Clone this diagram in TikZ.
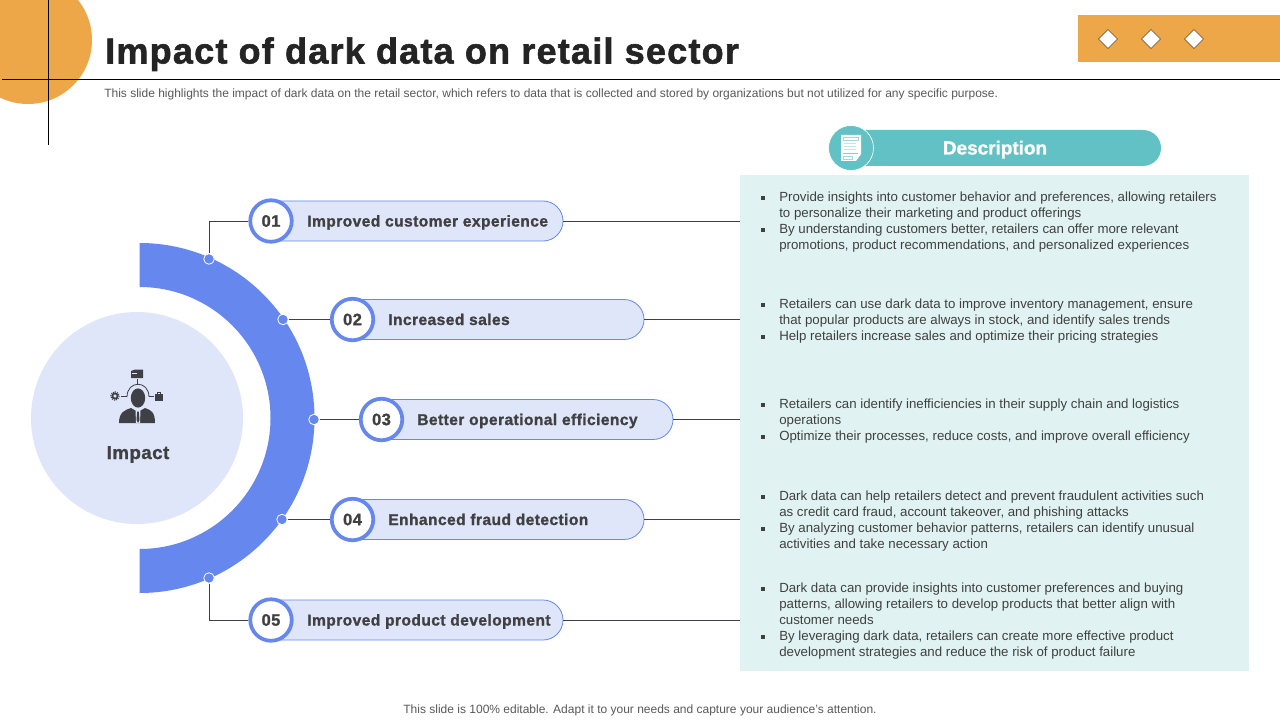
\documentclass[tikz,border=0pt]{standalone}
\usepackage{fontspec}
\setmainfont{Liberation Sans}
\newfontfamily\lblfont[LetterSpace=2.6,FakeBold=1.2]{Liberation Sans}
\newfontfamily\titlefont[LetterSpace=3.4,FakeBold=1.6]{Liberation Sans}
\newfontfamily\descfont[FakeBold=1.2]{Liberation Sans}
\definecolor{orangeC}{HTML}{EEA748}
\definecolor{blueC}{HTML}{6687EE}
\definecolor{paleC}{HTML}{E0E6FA}
\definecolor{tealC}{HTML}{62C1C5}
\definecolor{paleT}{HTML}{E0F2F2}
\definecolor{inkC}{HTML}{404040}
\definecolor{iconC}{HTML}{3F3F46}
\newcommand{\bul}{\leavevmode\llap{\rule[1.6pt]{2.6pt}{2.6pt}\hspace{10.8pt}}}
\tikzset{x=0.75pt,y=-0.75pt,
 pill/.style={draw=blueC,line width=0.6pt,fill=paleC},
 numc/.style={circle,draw=blueC,line width=2.8pt,fill=white,minimum size=41.5pt*0.75,inner sep=0pt,font=\lblfont\bfseries\fontsize{12.4}{14}\selectfont,text=inkC},
 lbl/.style={anchor=base west,inner sep=0pt,font=\lblfont\bfseries\fontsize{11.7}{14}\selectfont,text=inkC},
 dotn/.style={circle,fill=blueC,draw=white,line width=0.6pt,minimum size=10.5pt*0.75,inner sep=0pt},
 conn/.style={draw=iconC,line width=0.6pt},
 body/.style={anchor=north west,inner sep=0pt,align=left,text=inkC,font=\fontsize{9.95}{12}\selectfont},
 rule/.style={draw=black,line width=0.75pt},
 dia/.style={draw=black!60!orangeC,line width=0.5pt,fill=white}}
\begin{document}
\begin{tikzpicture}
\useasboundingbox (0,0) rectangle (1280,720);
\fill[white] (0,0) rectangle (1280,720);
% header
\begin{scope}
\clip (0,0) rectangle (1280,720);
\fill[orangeC] (28,40) circle[radius=64];
\end{scope}
\fill[orangeC] (1078,15) rectangle (1280,62);
\foreach \p in {1108,1151,1194}{\filldraw[dia] (\p-9.5,39)--(\p,29.5)--(\p+9.5,39)--(\p,48.5)--cycle;}
\draw[rule] (2,79.5) -- (1280,79.5);
\draw[rule] (48.5,0) -- (48.5,145);
\node[anchor=base west,inner sep=0pt,text=black!86] (title) at (105,63.5) {\titlefont\bfseries\fontsize{27}{32}\selectfont Impact of dark data on retail sector};
\node[anchor=base west,inner sep=0pt,text=black!65] (sub) at (104,97.5) {\fontsize{9}{10}\selectfont This slide highlights the impact of dark data on the retail sector, which refers to data that is collected and stored by organizations but not utilized for any specific purpose.};
\node[anchor=base,inner sep=0pt,text=black!65] (foot) at (640,713) {\fontsize{9}{10}\selectfont This slide is 100\% editable. Adapt it to your needs and capture your audience's attention.};
% centre
\fill[paleC] (137,418) circle[radius=106];
\fill[blueC] (139.5,243) arc[start angle=90,end angle=-90,x radius=175*0.75pt,y radius=175*0.75pt] -- (139.5,549) arc[start angle=-90,end angle=90,x radius=131*0.75pt,y radius=131*0.75pt] -- cycle;
\node[anchor=base,inner sep=0pt,text=inkC] (impact) at (138,459) {\lblfont\bfseries\fontsize{14}{16}\selectfont Impact};
% person icon
\draw[iconC,line width=0.6pt] (127,397) .. controls (127,380) and (149,380) .. (149,397);
\fill[iconC] (119,423) .. controls (119,412) and (125,410) .. (131,408) -- (138,412) -- (145,408) .. controls (151,410) and (155,412) .. (155,423) -- cycle;
\fill[paleC] (135.5,409.5) -- (138,411.5) -- (140.5,409.5) -- (140,423) -- (136,423) -- cycle;
\fill[iconC] (137.2,411.5) -- (138.8,411.5) -- (139.5,420) -- (138,423) -- (136.5,420) -- cycle;
\fill[iconC] (138,398) ellipse[x radius=7.2,y radius=9.6];
\draw[iconC,line width=0.5pt] (137,385) -- (137,379);
\fill[iconC] (131,371) -- (135,369.5) -- (143,369.5) -- (143,378) -- (131,378) -- cycle;
\fill[paleC] (132,372.5) rectangle (137,373.2);
\fill[iconC] (155,394) rectangle (163,400.5);
\draw[iconC,line width=0.4pt] (157.5,394) -- (157.5,392.5) -- (160.5,392.5) -- (160.5,394);
\draw[iconC,line width=0.4pt] (149,396.5) -- (154,396.5);
\draw[iconC,line width=0.4pt] (121,396.5) -- (127,396.5);
\draw[iconC,line width=1.3pt] (115,396) circle[radius=2.6];
\draw[iconC,line width=0.8pt,dash pattern=on 0.8pt off 0.8pt] (115,396) circle[radius=4.2];
% rows
\coordinate (stub1) at (740,221);
\coordinate (stub2) at (740,319.5);
\coordinate (stub3) at (740,419.5);
\coordinate (stub4) at (740,519.5);
\coordinate (stub5) at (740,620);
\node[dotn] (d1) at (209,259) {};
\node[dotn] (d2) at (283,319.5) {};
\node[dotn] (d3) at (314,419.5) {};
\node[dotn] (d4) at (282,519.5) {};
\node[dotn] (d5) at (209,578) {};
% pills
\filldraw[pill] (271,201) -- (543,201) arc[start angle=90,end angle=-90,x radius=15pt,y radius=15pt] -- (271,241) -- cycle;
\filldraw[pill] (353,299.5) -- (624,299.5) arc[start angle=90,end angle=-90,x radius=15pt,y radius=15pt] -- (353,339.5) -- cycle;
\filldraw[pill] (382,399.5) -- (653,399.5) arc[start angle=90,end angle=-90,x radius=15pt,y radius=15pt] -- (382,439.5) -- cycle;
\filldraw[pill] (353,499.5) -- (624,499.5) arc[start angle=90,end angle=-90,x radius=15pt,y radius=15pt] -- (353,539.5) -- cycle;
\filldraw[pill] (271,600) -- (543,600) arc[start angle=90,end angle=-90,x radius=15pt,y radius=15pt] -- (271,640) -- cycle;
\node[numc] (n1) at (271,221) {01};
\node[numc] (n2) at (352.5,319.5) {02};
\node[numc] (n3) at (381.5,419.5) {03};
\node[numc] (n4) at (352.5,519.5) {04};
\node[numc] (n5) at (271,620) {05};
\node[lbl] (l1) at (307,226.5) {Improved customer experience};
\node[lbl] (l2) at (388,325) {Increased sales};
\node[lbl] (l3) at (417,425) {Better operational efficiency};
\node[lbl] (l4) at (388,525) {Enhanced fraud detection};
\node[lbl] (l5) at (307,625.5) {Improved product development};
\draw[conn] (d1) |- (n1);
\draw[conn] (d2) -- (n2);
\draw[conn] (d3) -- (n3);
\draw[conn] (d4) -- (n4);
\draw[conn] (d5) |- (n5);
\draw[conn] (563,221) -- (stub1);
\draw[conn] (644,319.5) -- (stub2);
\draw[conn] (673,419.5) -- (stub3);
\draw[conn] (644,519.5) -- (stub4);
\draw[conn] (563,620) -- (stub5);
% description
\fill[paleT] (740,175) rectangle (1249,671);
\filldraw[fill=tealC,draw=none] (851,130) -- (1143,130) arc[start angle=90,end angle=-90,x radius=13.5pt,y radius=13.5pt] -- (851,166) -- cycle;
\filldraw[fill=tealC,draw=white,line width=0.5pt] (851,148) circle[radius=22.5];
\fill[white] (841,135) -- (861,135) -- (861,154) -- (856,161) -- (841,161) -- cycle;
\draw[tealC!60,line width=0.4pt] (843,137.5) rectangle (858,140.5);
\foreach \yy in {143,146,149}{\draw[tealC!40,line width=0.4pt] (843.5,\yy) -- (856,\yy);}
\draw[tealC!80,line width=0.5pt] (843,153) -- (858,153);
\draw[tealC!60,line width=0.4pt] (843,156) rectangle (852,159);
\node[anchor=base,inner sep=0pt,text=white] (dt) at (995,154.5) {\descfont\bfseries\fontsize{14.2}{16}\selectfont Description};
\node[body] (b1) at (779,192) {\bul Provide insights into customer behavior and preferences, allowing retailers\\ to personalize their marketing and product offerings\\ \bul By understanding customers better, retailers can offer more relevant\\ promotions, product recommendations, and personalized experiences};
\node[body] (b2) at (779,299) {\bul Retailers can use dark data to improve inventory management, ensure\\ that popular products are always in stock, and identify sales trends\\ \bul Help retailers increase sales and optimize their pricing strategies};
\node[body] (b3) at (779,399) {\bul Retailers can identify inefficiencies in their supply chain and logistics\\ operations\\ \bul Optimize their processes, reduce costs, and improve overall efficiency};
\node[body] (b4) at (779,491) {\bul Dark data can help retailers detect and prevent fraudulent activities such\\ as credit card fraud, account takeover, and phishing attacks\\ \bul By analyzing customer behavior patterns, retailers can identify unusual\\ activities and take necessary action};
\node[body] (b5) at (779,583) {\bul Dark data can provide insights into customer preferences and buying\\ patterns, allowing retailers to develop products that better align with\\ customer needs\\ \bul By leveraging dark data, retailers can create more effective product\\ development strategies and reduce the risk of product failure};
\end{tikzpicture}
\end{document}
